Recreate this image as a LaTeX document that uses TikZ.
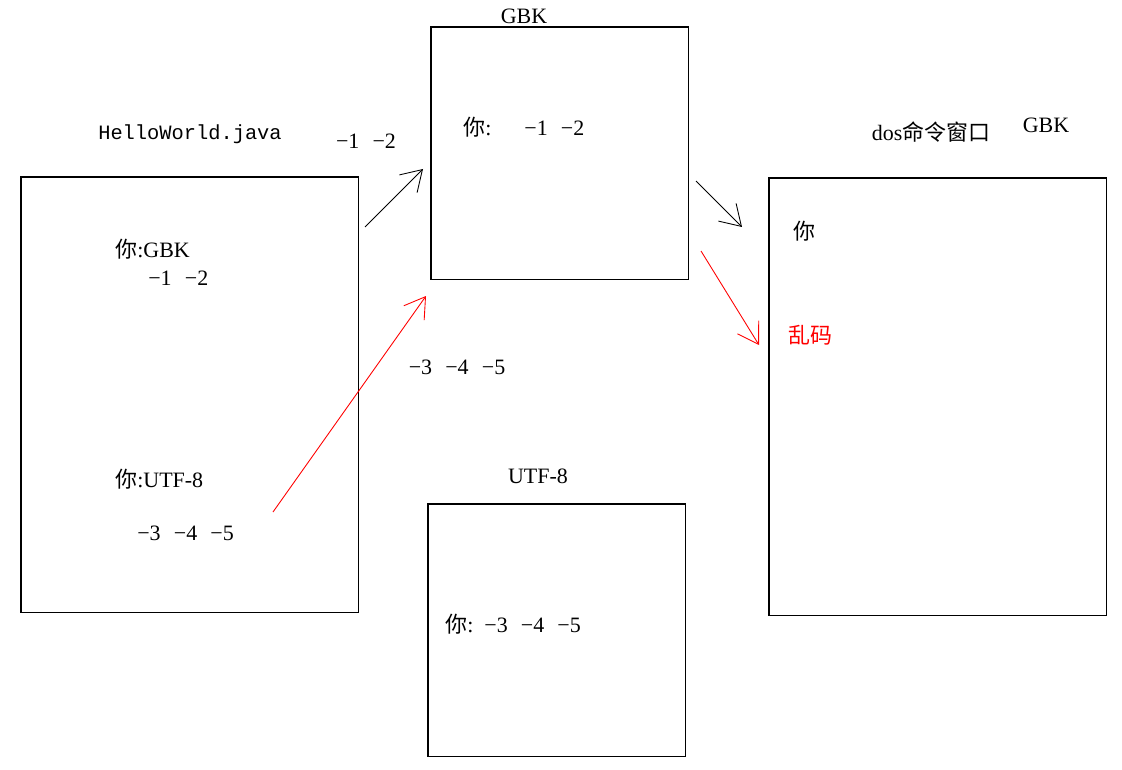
\documentclass[tikz,border=0pt]{standalone}
\usepackage{fontspec}
\setmainfont{Liberation Serif}
\setmonofont{Liberation Mono}
\newfontfamily\cjk{Noto Sans CJK SC}
\usetikzlibrary{arrows.meta}

\begin{document}
\begin{tikzpicture}[
            x=0.02cm, y=-0.02cm,
            every node/.style={font=\fontsize{12.5}{14}\selectfont},
            file_box/.style={rectangle, draw, line width=0.6pt, inner sep=0pt, outer sep=0pt, anchor=north west, minimum width=6.76cm, minimum height=8.72cm},
            code_box/.style={rectangle, draw, line width=0.6pt, inner sep=0pt, outer sep=0pt, anchor=north west, minimum width=5.16cm, minimum height=5.05cm},
            label/.style={inner sep=0pt, anchor=west},
            line/.style={-{Straight Barb[length=4mm, width=5mm]}, line width=0.5pt},
            bad_line/.style={line, red}
        ]
        \useasboundingbox (0,0) rectangle (1122,770);

        % Kutular
        \node (java) [file_box] at (21,177) {};
        \node (gbk) [code_box] at (431,27) {};
        \node (utf) [code_box] at (428,504) {};
        \node (dos) [file_box, minimum height=8.76cm] at (769,178) {};

        % Başlıklar
        \node (java_title) [font=\ttfamily\fontsize{11.6}{13}\selectfont] at (190,134) {HelloWorld.java};
        \node (gbk_title) at (524,16) {GBK};
        \node (utf_title) at (538,476) {UTF-8};
        \node (dos_title) at (931,132) {dos{\cjk 命令窗口}};
        \node (dos_code) at (1046,125) {GBK};

        % Sol kutu
        \node (src_gbk) [label] at (115,249) {{\cjk 你}:GBK};
        \node (src_gbk_bytes) [label] at (148,278) {−1\hspace{0.6em}−2};
        \node (src_utf) [label] at (115,479) {{\cjk 你}:UTF-8};
        \node (src_utf_bytes) [label] at (137,533) {−3\hspace{0.6em}−4\hspace{0.6em}−5};

        % Orta kutular
        \node (gbk_text) [label] at (463,127) {{\cjk 你}:\hspace{1.5em}−1\hspace{0.6em}−2};
        \node (utf_text) [label] at (445,624) {{\cjk 你}:\hspace{0.5em}−3\hspace{0.6em}−4\hspace{0.6em}−5};

        % Sağ kutu
        \node (out_ok) [label] at (793,231) {\cjk 你};
        \node (out_bad) [label, text=red] at (788,335) {\cjk 乱码};

        % Ok etiketleri
        \node (bytes_a) at (366,141) {−1\hspace{0.6em}−2};
        \node (bytes_b) at (457,367) {−3\hspace{0.6em}−4\hspace{0.6em}−5};

        % Ok uçları
        \coordinate (a1) at (365,227);
        \coordinate (a2) at (423,169);
        \coordinate (b1) at (696,181);
        \coordinate (b2) at (742,227);
        \coordinate (c1) at (273,512);
        \coordinate (c2) at (426,296);
        \coordinate (d1) at (701,251);
        \coordinate (d2) at (759,345);

        % Bağlantılar
        \draw [line] (a1) -- (a2);
        \draw [line] (b1) -- (b2);
        \draw [bad_line] (c1) -- (c2);
        \draw [bad_line] (d1) -- (d2);

    \end{tikzpicture}
\end{document}
